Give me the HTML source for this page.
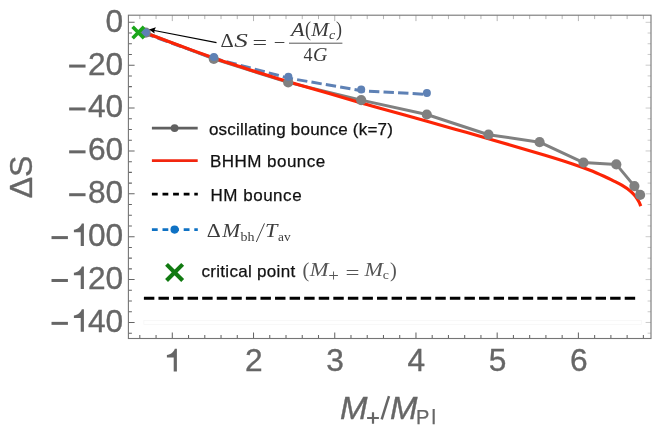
<!DOCTYPE html>
<html><head><meta charset="utf-8"><title>plot</title>
<style>html,body{margin:0;padding:0;background:#fff;}svg{display:block;will-change:transform;}text{font-family:"Liberation Sans",sans-serif;}.s{font-family:"Liberation Serif",serif;}</style></head><body>
<svg width="664" height="435" viewBox="0 0 664 435">
<rect width="664" height="435" fill="#fff"/>
<path d="M139.81 15.2 v3.9 M156.06 15.2 v3.9 M172.30 15.2 v5.9 M188.54 15.2 v3.9 M204.79 15.2 v3.9 M221.03 15.2 v3.9 M237.28 15.2 v3.9 M253.52 15.2 v5.9 M269.76 15.2 v3.9 M286.01 15.2 v3.9 M302.25 15.2 v3.9 M318.50 15.2 v3.9 M334.74 15.2 v5.9 M350.98 15.2 v3.9 M367.23 15.2 v3.9 M383.47 15.2 v3.9 M399.72 15.2 v3.9 M415.96 15.2 v5.9 M432.20 15.2 v3.9 M448.45 15.2 v3.9 M464.69 15.2 v3.9 M480.94 15.2 v3.9 M497.18 15.2 v5.9 M513.42 15.2 v3.9 M529.67 15.2 v3.9 M545.91 15.2 v3.9 M562.16 15.2 v3.9 M578.40 15.2 v5.9 M594.64 15.2 v3.9 M610.89 15.2 v3.9 M627.13 15.2 v3.9 M643.38 15.2 v3.9" stroke="#9c9c9c" stroke-width="0.75" fill="none"/>
<path d="M651.0 22.30 h-5.4 M651.0 33.02 h-3.4 M651.0 43.74 h-3.4 M651.0 54.46 h-3.4 M651.0 65.18 h-5.4 M651.0 75.90 h-3.4 M651.0 86.62 h-3.4 M651.0 97.34 h-3.4 M651.0 108.06 h-5.4 M651.0 118.78 h-3.4 M651.0 129.50 h-3.4 M651.0 140.22 h-3.4 M651.0 150.94 h-5.4 M651.0 161.66 h-3.4 M651.0 172.38 h-3.4 M651.0 183.10 h-3.4 M651.0 193.82 h-5.4 M651.0 204.54 h-3.4 M651.0 215.26 h-3.4 M651.0 225.98 h-3.4 M651.0 236.70 h-5.4 M651.0 247.42 h-3.4 M651.0 258.14 h-3.4 M651.0 268.86 h-3.4 M651.0 279.58 h-5.4 M651.0 290.30 h-3.4 M651.0 301.02 h-3.4 M651.0 311.74 h-3.4 M651.0 322.46 h-5.4 M651.0 333.18 h-3.4" stroke="#a8a8a8" stroke-width="0.6" fill="none"/>
<path d="M139.81 338.5 v-3.5 M156.06 338.5 v-3.5 M172.30 338.5 v-6 M188.54 338.5 v-3.5 M204.79 338.5 v-3.5 M221.03 338.5 v-3.5 M237.28 338.5 v-3.5 M253.52 338.5 v-6 M269.76 338.5 v-3.5 M286.01 338.5 v-3.5 M302.25 338.5 v-3.5 M318.50 338.5 v-3.5 M334.74 338.5 v-6 M350.98 338.5 v-3.5 M367.23 338.5 v-3.5 M383.47 338.5 v-3.5 M399.72 338.5 v-3.5 M415.96 338.5 v-6 M432.20 338.5 v-3.5 M448.45 338.5 v-3.5 M464.69 338.5 v-3.5 M480.94 338.5 v-3.5 M497.18 338.5 v-6 M513.42 338.5 v-3.5 M529.67 338.5 v-3.5 M545.91 338.5 v-3.5 M562.16 338.5 v-3.5 M578.40 338.5 v-6 M594.64 338.5 v-3.5 M610.89 338.5 v-3.5 M627.13 338.5 v-3.5 M643.38 338.5 v-3.5 M128.4 22.30 h6.2 M128.4 33.02 h3.5 M128.4 43.74 h3.5 M128.4 54.46 h3.5 M128.4 65.18 h6.2 M128.4 75.90 h3.5 M128.4 86.62 h3.5 M128.4 97.34 h3.5 M128.4 108.06 h6.2 M128.4 118.78 h3.5 M128.4 129.50 h3.5 M128.4 140.22 h3.5 M128.4 150.94 h6.2 M128.4 161.66 h3.5 M128.4 172.38 h3.5 M128.4 183.10 h3.5 M128.4 193.82 h6.2 M128.4 204.54 h3.5 M128.4 215.26 h3.5 M128.4 225.98 h3.5 M128.4 236.70 h6.2 M128.4 247.42 h3.5 M128.4 258.14 h3.5 M128.4 268.86 h3.5 M128.4 279.58 h6.2 M128.4 290.30 h3.5 M128.4 301.02 h3.5 M128.4 311.74 h3.5 M128.4 322.46 h6.2 M128.4 333.18 h3.5" stroke="#666" stroke-width="1.05" fill="none"/>
<rect x="143.9" y="320.5" width="497.5" height="3.9" stroke="#f5f5f5" stroke-width="0.7" fill="none"/>
<path d="M143.9 298.3 H636" stroke="#000" stroke-width="3.1" stroke-dasharray="10.45 4.12" fill="none"/>
<polyline points="145.7,32.7 213.8,58.9 288.2,82.4 361.2,100.1 426.8,114.5 488.5,134.7 539.6,142.2 583.5,162.6 616.3,164.4 634.4,186.1 640.1,194.9" fill="none" stroke="#808080" stroke-width="3" stroke-linejoin="round"/>
<polyline points="145.7,33.80 213.9,58.30 288.4,78.10 361.2,90.70 426.9,94.40" fill="none" stroke="#5e81b5" stroke-width="3" stroke-dasharray="10.4 4.17" stroke-dashoffset="1.9"/>
<path d="M145.7 33.0 C151.42 35.13 168.65 41.65 180 45.8 C191.35 49.95 203.80 54.43 213.8 57.9 C223.80 61.37 232.30 64.08 240 66.6 C247.70 69.12 251.93 70.47 260 73.0 C268.07 75.53 276.73 78.33 288.4 81.8 C300.07 85.27 317.87 90.28 330 93.8 C342.13 97.32 352.87 100.48 361.2 102.9 C369.53 105.32 369.03 105.25 380 108.3 C390.97 111.35 414.50 117.72 427 121.2 C439.50 124.68 445.60 126.53 455 129.2 C464.40 131.87 474.23 134.57 483.4 137.2 C492.57 139.83 499.73 142.00 510 145.0 C520.27 148.00 534.57 152.05 545 155.2 C555.43 158.35 565.10 161.40 572.6 163.9 C580.10 166.40 584.60 168.07 590 170.2 C595.40 172.33 601.17 174.97 605 176.7 C608.83 178.43 610.20 179.18 613 180.6 C615.80 182.02 618.87 183.43 621.8 185.2 C624.73 186.97 628.28 189.28 630.6 191.2 C632.92 193.12 634.32 194.93 635.7 196.7 C637.08 198.47 638.05 200.22 638.9 201.8 C639.75 203.38 640.48 205.47 640.8 206.2" fill="none" stroke="#fc2406" stroke-width="3.15" stroke-linecap="butt"/>
<circle cx="145.7" cy="32.7" r="5.1" fill="#808080"/>
<circle cx="213.8" cy="58.9" r="5.1" fill="#808080"/>
<circle cx="288.2" cy="82.4" r="5.1" fill="#808080"/>
<circle cx="361.2" cy="100.1" r="5.1" fill="#808080"/>
<circle cx="426.8" cy="114.5" r="5.1" fill="#808080"/>
<circle cx="488.5" cy="134.7" r="5.1" fill="#808080"/>
<circle cx="539.6" cy="142.2" r="5.1" fill="#808080"/>
<circle cx="583.5" cy="162.6" r="5.1" fill="#808080"/>
<circle cx="616.3" cy="164.4" r="5.1" fill="#808080"/>
<circle cx="634.4" cy="186.1" r="5.1" fill="#808080"/>
<circle cx="640.1" cy="194.9" r="5.1" fill="#808080"/>
<circle cx="145.7" cy="32.5" r="4.0" fill="#5e81b5"/>
<circle cx="213.9" cy="57.0" r="4.0" fill="#5e81b5"/>
<circle cx="288.4" cy="76.8" r="4.0" fill="#5e81b5"/>
<circle cx="361.2" cy="89.4" r="4.0" fill="#5e81b5"/>
<circle cx="426.9" cy="93.1" r="4.0" fill="#5e81b5"/>
<path d="M132.6 26.8 L144 38.2 M144 26.8 L132.6 38.2" stroke="#1aa61a" stroke-width="3.6" fill="none"/>
<rect x="128.4" y="15.2" width="522.60" height="323.30" fill="none" stroke="#757575" stroke-width="1.1"/>
<path d="M216.5 42.6 L153 30.25" stroke="#000" stroke-width="1.1" fill="none"/>
<path d="M149.0 29.45 L155.9 27.3 L154.3 30.5 L154.6 33.6 Z" fill="#000"/>
<text x="123.20" y="31.70" font-size="31.7" fill="#666" stroke="#666" stroke-width="0.35" text-anchor="end">0</text>
<text x="123.20" y="74.58" font-size="31.7" fill="#666" stroke="#666" stroke-width="0.35" text-anchor="end">20</text>
<rect x="69.14" y="64.58" width="16.4" height="3.0" fill="#666"/>
<text x="123.20" y="117.46" font-size="31.7" fill="#666" stroke="#666" stroke-width="0.35" text-anchor="end">40</text>
<rect x="69.14" y="107.46" width="16.4" height="3.0" fill="#666"/>
<text x="123.20" y="160.34" font-size="31.7" fill="#666" stroke="#666" stroke-width="0.35" text-anchor="end">60</text>
<rect x="69.14" y="150.34" width="16.4" height="3.0" fill="#666"/>
<text x="123.20" y="203.22" font-size="31.7" fill="#666" stroke="#666" stroke-width="0.35" text-anchor="end">80</text>
<rect x="69.14" y="193.22" width="16.4" height="3.0" fill="#666"/>
<text x="123.20" y="246.10" font-size="31.7" fill="#666" stroke="#666" stroke-width="0.35" text-anchor="end">00</text>
<path transform="translate(80.51 246.10)" d="M3.4 -22.6 V0 H0.2 V-13.8 H-6.6 V-16.35 C-2.8 -16.8 0.25 -19.3 1.3 -22.6 Z" fill="#666"/>
<rect x="51.51" y="236.10" width="16.4" height="3.0" fill="#666"/>
<text x="123.20" y="288.98" font-size="31.7" fill="#666" stroke="#666" stroke-width="0.35" text-anchor="end">20</text>
<path transform="translate(80.51 288.98)" d="M3.4 -22.6 V0 H0.2 V-13.8 H-6.6 V-16.35 C-2.8 -16.8 0.25 -19.3 1.3 -22.6 Z" fill="#666"/>
<rect x="51.51" y="278.98" width="16.4" height="3.0" fill="#666"/>
<text x="123.20" y="331.86" font-size="31.7" fill="#666" stroke="#666" stroke-width="0.35" text-anchor="end">40</text>
<path transform="translate(80.51 331.86)" d="M3.4 -22.6 V0 H0.2 V-13.8 H-6.6 V-16.35 C-2.8 -16.8 0.25 -19.3 1.3 -22.6 Z" fill="#666"/>
<rect x="51.51" y="321.86" width="16.4" height="3.0" fill="#666"/>
<path transform="translate(173.50 371.4)" d="M3.4 -22.6 V0 H0.2 V-13.8 H-6.6 V-16.35 C-2.8 -16.8 0.25 -19.3 1.3 -22.6 Z" fill="#666"/>
<text x="253.82" y="371.40" font-size="31.7" fill="#666" stroke="#666" stroke-width="0.35" text-anchor="middle">2</text>
<text x="335.04" y="371.40" font-size="31.7" fill="#666" stroke="#666" stroke-width="0.35" text-anchor="middle">3</text>
<text x="416.26" y="371.40" font-size="31.7" fill="#666" stroke="#666" stroke-width="0.35" text-anchor="middle">4</text>
<text x="497.48" y="371.40" font-size="31.7" fill="#666" stroke="#666" stroke-width="0.35" text-anchor="middle">5</text>
<text x="578.70" y="371.40" font-size="31.7" fill="#666" stroke="#666" stroke-width="0.35" text-anchor="middle">6</text>
<text transform="translate(31.5 177) rotate(-90)" font-size="32" fill="#666" stroke="#666" stroke-width="0.35" text-anchor="middle">ΔS</text>
<text x="339.90" y="419.10" font-size="31" fill="#666" font-style="italic" textLength="27.50" lengthAdjust="spacingAndGlyphs" stroke="#666" stroke-width="0.35">M</text>
<path d="M367.1 418 H378.9 M373 412.3 V423.7" stroke="#666" stroke-width="2.2" fill="none"/>
<path d="M381.7 419.4 L389.0 396.1" stroke="#666" stroke-width="2.5" fill="none"/>
<text x="389.90" y="419.10" font-size="31" fill="#666" font-style="italic" textLength="27.50" lengthAdjust="spacingAndGlyphs" stroke="#666" stroke-width="0.35">M</text>
<text x="416.1" y="424.2" font-size="20" fill="#666" stroke="#666" stroke-width="0.25">P</text>
<text x="431.6" y="424.2" font-size="20" fill="#666" stroke="#666" stroke-width="0.25">l</text>
<path d="M151.9 128.1 H197.7" stroke="#606060" stroke-width="2.7" fill="none"/><circle cx="174.6" cy="128.1" r="3.9" fill="#606060"/>
<text x="208.9" y="134.6" font-size="17.0" fill="#111" stroke="#111" stroke-width="0.25" textLength="184.0" lengthAdjust="spacing">oscillating bounce (k=7)</text>
<path d="M151.9 160.7 H197.7" stroke="#f2260f" stroke-width="2.7" fill="none"/>
<text x="210.0" y="166.6" font-size="17.0" fill="#111" stroke="#111" stroke-width="0.25" textLength="115.2" lengthAdjust="spacing">BHHM bounce</text>
<path d="M151.9 194.1 H197.8" stroke="#000" stroke-width="2.8" stroke-dasharray="5.8 4.8" fill="none"/>
<text x="210.4" y="200.6" font-size="17.0" fill="#111" stroke="#111" stroke-width="0.25" textLength="91.2" lengthAdjust="spacing">HM bounce</text>
<path d="M151.9 229.6 H197.8" stroke="#0f72c4" stroke-width="2.8" stroke-dasharray="5.8 4.8" fill="none"/><circle cx="174.6" cy="229.6" r="4.1" fill="#0f72c4"/>
<text class="s" x="206.80" y="236.80" font-size="18.2" fill="#3c3c3c" textLength="14.00" lengthAdjust="spacingAndGlyphs">Δ</text>
<text class="s" x="222.20" y="236.80" font-size="18.2" fill="#3c3c3c" font-style="italic" textLength="17.80" lengthAdjust="spacingAndGlyphs">M</text>
<text class="s" x="240.40" y="240.60" font-size="12.4" fill="#3c3c3c" textLength="14.00" lengthAdjust="spacingAndGlyphs">bh</text>
<path d="M256.3 242.0 L264.5 223.4" stroke="#3c3c3c" stroke-width="0.95" fill="none"/>
<text class="s" x="265.00" y="236.80" font-size="18.2" fill="#3c3c3c" font-style="italic" textLength="12.40" lengthAdjust="spacingAndGlyphs">T</text>
<text class="s" x="278.00" y="240.60" font-size="12.4" fill="#3c3c3c" textLength="12.60" lengthAdjust="spacingAndGlyphs">av</text>
<path d="M166.55 264.35 L182.65 280.45 M182.65 264.35 L166.55 280.45" stroke="#117a11" stroke-width="4.1" fill="none"/>
<text x="201.4" y="276.6" font-size="17.0" fill="#111" stroke="#111" stroke-width="0.25" textLength="93.8" lengthAdjust="spacing">critical point</text>
<text class="s" x="302.60" y="277.00" font-size="20" fill="#555" textLength="6.80" lengthAdjust="spacingAndGlyphs">(</text>
<text class="s" x="309.80" y="276.40" font-size="19.4" fill="#555" font-style="italic" textLength="18.80" lengthAdjust="spacingAndGlyphs">M</text>
<text class="s" x="328.20" y="281.20" font-size="17.5" fill="#555" textLength="10.60" lengthAdjust="spacingAndGlyphs">+</text>
<text class="s" x="345.40" y="278.50" font-size="19" fill="#555" textLength="14.00" lengthAdjust="spacingAndGlyphs">=</text>
<text class="s" x="364.50" y="276.40" font-size="19.4" fill="#555" font-style="italic" textLength="18.50" lengthAdjust="spacingAndGlyphs">M</text>
<text class="s" x="382.80" y="279.00" font-size="12.4" fill="#555" textLength="6.20" lengthAdjust="spacingAndGlyphs">c</text>
<text class="s" x="390.00" y="277.00" font-size="20" fill="#555" textLength="6.80" lengthAdjust="spacingAndGlyphs">)</text>
<text class="s" x="220.60" y="46.80" font-size="18.2" fill="#3a3a3a" textLength="13.20" lengthAdjust="spacingAndGlyphs">Δ</text>
<text class="s" x="234.20" y="46.80" font-size="18.2" fill="#3a3a3a" font-style="italic" textLength="13.60" lengthAdjust="spacingAndGlyphs">S</text>
<text class="s" x="252.60" y="48.80" font-size="19.5" fill="#3a3a3a" textLength="14.60" lengthAdjust="spacingAndGlyphs">=</text>
<text class="s" x="273.80" y="48.80" font-size="19.5" fill="#3a3a3a" textLength="11.60" lengthAdjust="spacingAndGlyphs">−</text>
<path d="M289 43.2 H342.4" stroke="#444" stroke-width="0.9"/>
<text class="s" x="291.00" y="35.60" font-size="18.2" fill="#3a3a3a" font-style="italic" textLength="13.60" lengthAdjust="spacingAndGlyphs">A</text>
<text class="s" x="305.00" y="36.40" font-size="20" fill="#3a3a3a" textLength="6.00" lengthAdjust="spacingAndGlyphs">(</text>
<text class="s" x="311.20" y="35.60" font-size="18.2" fill="#3a3a3a" font-style="italic" textLength="17.60" lengthAdjust="spacingAndGlyphs">M</text>
<text class="s" x="329.00" y="38.60" font-size="12.4" fill="#3a3a3a" font-style="italic" textLength="6.20" lengthAdjust="spacingAndGlyphs">c</text>
<text class="s" x="336.00" y="36.40" font-size="20" fill="#3a3a3a" textLength="6.00" lengthAdjust="spacingAndGlyphs">)</text>
<text class="s" x="303.60" y="60.50" font-size="18.2" fill="#3a3a3a" textLength="9.00" lengthAdjust="spacingAndGlyphs">4</text>
<text class="s" x="313.00" y="60.50" font-size="18.2" fill="#3a3a3a" font-style="italic" textLength="14.40" lengthAdjust="spacingAndGlyphs">G</text>
</svg></body></html>
